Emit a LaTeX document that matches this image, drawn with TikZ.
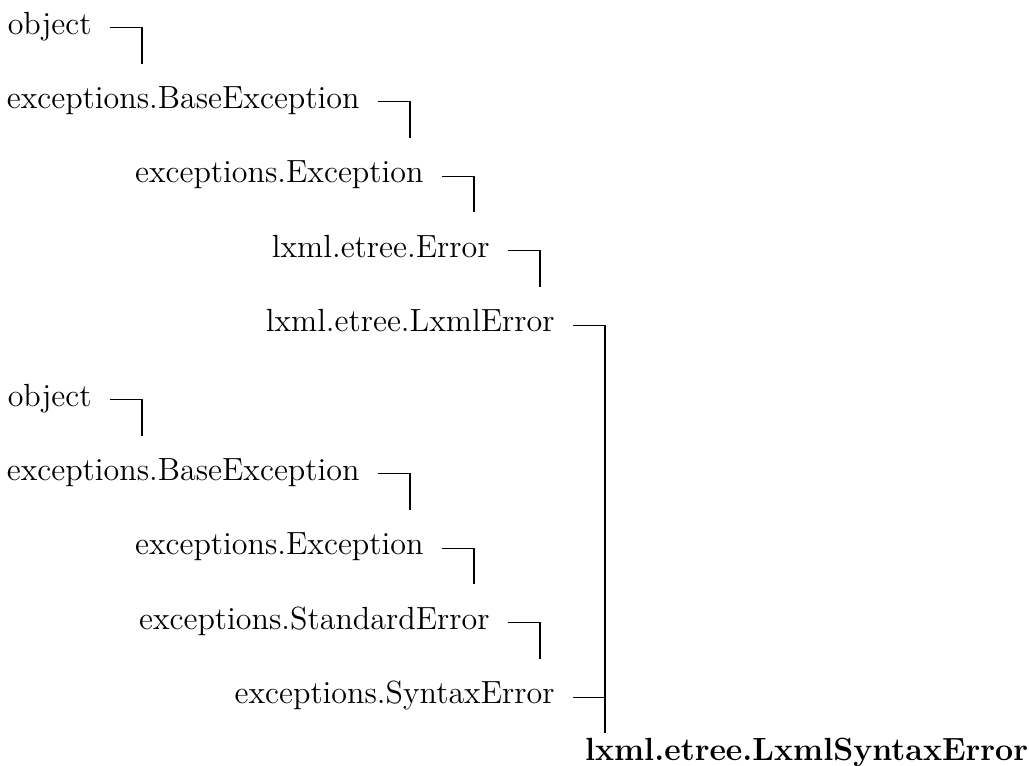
\documentclass[tikz,border=0pt]{standalone}
\usetikzlibrary{calc}
\begin{document}
\begin{tikzpicture}[x=0.3846pt, y=-0.3846pt,
  cls/.style={anchor=base east, inner sep=0pt, font=\fontsize{12.33}{14}\selectfont},
  fincls/.style={anchor=base east, inner sep=0pt, font=\fontsize{12.33}{14}\selectfont\bfseries},
  lnk/.style={line width=0.4pt}]
\useasboundingbox (0,0) rectangle (1029,765);
% upper chain
\node[cls] (a1) at (92,34) {object};
\node[cls] (a2) at (360,108.4) {exceptions.BaseException};
\node[cls] (a3) at (424,182.8) {exceptions.Exception};
\node[cls] (a4) at (490,257.2) {lxml.etree.Error};
\node[cls] (a5) at (555,331.6) {lxml.etree.LxmlError};
% lower chain
\node[cls] (b1) at (92,406) {object};
\node[cls] (b2) at (360,480.4) {exceptions.BaseException};
\node[cls] (b3) at (424,554.8) {exceptions.Exception};
\node[cls] (b4) at (490,629.2) {exceptions.StandardError};
\node[cls] (b5) at (555,703.6) {exceptions.SyntaxError};
% final class
\node[fincls] (fin) at (1028.5,760) {lxml.etree.LxmlSyntaxError};
% stub ends
\coordinate (ea1) at ($(a1.base east)+(50,29.5)$);
\coordinate (ea2) at ($(a2.base east)+(50,29.5)$);
\coordinate (ea3) at ($(a3.base east)+(50,29.5)$);
\coordinate (ea4) at ($(a4.base east)+(50,29.5)$);
\coordinate (eb1) at ($(b1.base east)+(50,29.5)$);
\coordinate (eb2) at ($(b2.base east)+(50,29.5)$);
\coordinate (eb3) at ($(b3.base east)+(50,29.5)$);
\coordinate (eb4) at ($(b4.base east)+(50,29.5)$);
\coordinate (join) at ($(a5.base east |- fin.base)+(50,-27)$);
% connectors
\foreach \n in {a1,a2,a3,a4,b1,b2,b3,b4}{
  \draw[lnk] ($(\n.base east)+(18,-6.5)$) -| (e\n);
}
\draw[lnk] ($(a5.base east)+(18,-6.5)$) -| (join);
\draw[lnk] ($(b5.base east)+(18,-6.5)$) -| (join);
\end{tikzpicture}
\end{document}
